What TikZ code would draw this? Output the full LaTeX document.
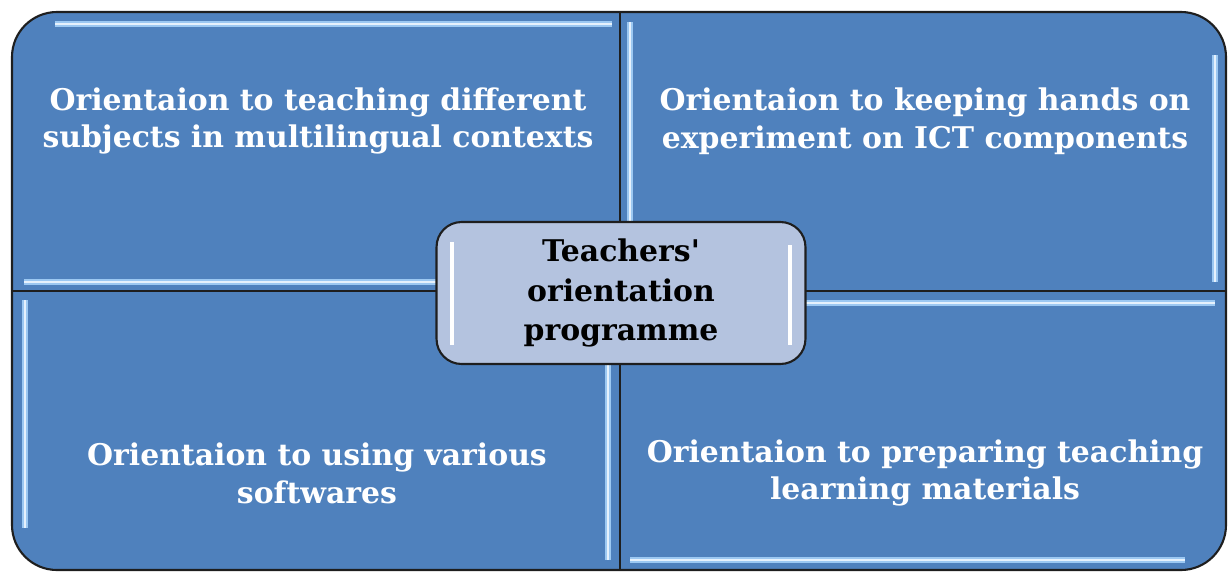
\documentclass[tikz,border=0pt]{standalone}
\usepackage{fontspec}
\setmainfont{DejaVu Serif}
\usepackage{xcolor}
\usepackage{tikz}
\usetikzlibrary{positioning}

\definecolor{quadblue}{HTML}{4F81BD}
\definecolor{hubfill}{HTML}{B4C3DF}
\definecolor{edgedark}{HTML}{1E1E1E}
\definecolor{shine}{HTML}{9CC8F2}

\begin{document}
\begin{tikzpicture}[x=0.02cm, y=-0.02cm,
  quadtext/.style={text=white, font=\bfseries\fontsize{17}{21.5}\selectfont, align=center},
  hubbox/.style={draw=edgedark, line width=1.2pt, fill=hubfill, rounded corners=0.5cm,
    minimum width=7.38cm, minimum height=2.84cm, align=center,
    font=\bfseries\fontsize{17}{22.5}\selectfont},
  glow/.style={shine, line width=3.4pt},
  glint/.style={white!75!shine, line width=1.2pt}]

\useasboundingbox (0,0) rectangle (1228,572);

\draw[edgedark, line width=1.2pt, fill=quadblue, rounded corners=0.9cm] (12,12) rectangle (1226,570);
\draw[edgedark, line width=1.2pt] (620,12) -- (620,570);
\draw[edgedark, line width=1.2pt] (12,291) -- (1226,291);

\foreach \a/\b in {{55,24}/{612,24}, {24,282}/{612,282},
                   {630,22}/{630,282}, {1215,55}/{1215,282},
                   {25,300}/{25,528}, {608,300}/{608,560},
                   {630,303}/{1215,303}, {630,560}/{1185,560}} {
  \draw[glow] (\a) -- (\b);
  \draw[glint] (\a) -- (\b);
}

\node[quadtext] (tl) at (318,121) {Orientaion to teaching different\\subjects in multilingual contexts};
\node[quadtext] (tr) at (925,121) {Orientaion to keeping hands on\\experiment on ICT components};
\node[quadtext] (bl) at (317,473) {Orientaion to using various\\softwares};
\node[quadtext] (br) at (925,473) {Orientaion to preparing teaching\\learning materials};

\node[hubbox] (hub) at (621,293) {Teachers\textquotesingle\\orientation\\programme};
\draw[white, line width=2pt] (452,242) -- (452,345);
\draw[white, line width=2pt] (790,245) -- (790,345);

\end{tikzpicture}
\end{document}
